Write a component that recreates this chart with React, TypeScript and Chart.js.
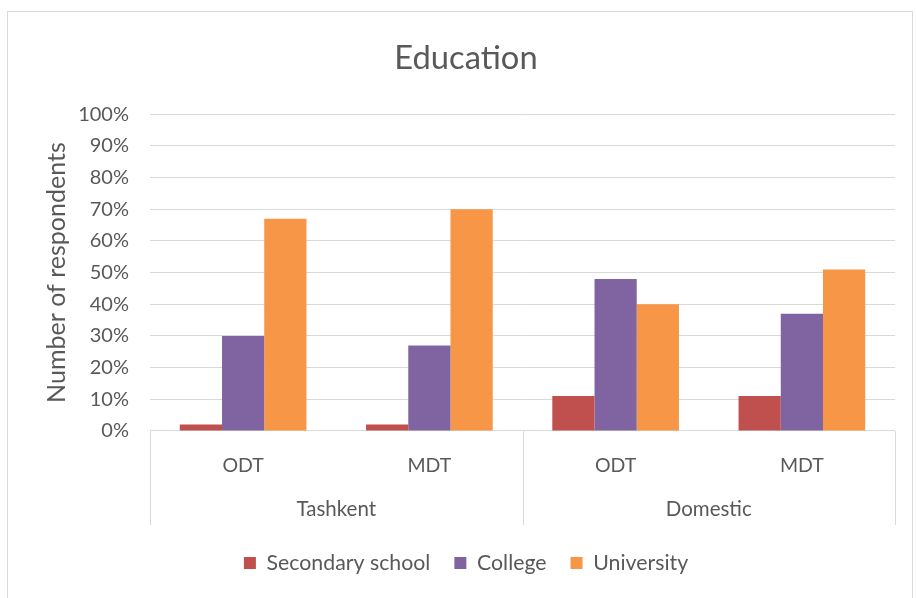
import React, { useEffect, useRef } from "react";
import { Chart, registerables } from "chart.js";

Chart.register(...registerables);

const categories = ["ODT", "MDT", "ODT", "MDT"];
const groups = ["Tashkent", "Domestic"];
const secondarySchool = [2, 2, 11, 11];
const college = [30, 27, 48, 37];
const university = [67, 70, 40, 51];
const yTicks = [0, 10, 20, 30, 40, 50, 60, 70, 80, 90, 100];

const FONT = "Lato";
const TEXT = "#595959";
const GRID = "#d9d9d9";

const dividerPlugin = {
  id: "groupDividers",
  afterDraw(chart: any) {
    const x = chart.scales.x;
    const area = chart.chartArea;
    const ctx = chart.ctx;
    const mid = (x.getPixelForValue(1) + x.getPixelForValue(2)) / 2;
    const xs = [area.left, mid, area.right];
    ctx.save();
    ctx.strokeStyle = GRID;
    ctx.lineWidth = 1;
    xs.forEach((px) => {
      const p = Math.round(px) + 0.5;
      ctx.beginPath();
      ctx.moveTo(p, area.bottom);
      ctx.lineTo(p, area.bottom + 94);
      ctx.stroke();
    });
    ctx.restore();
  },
};

export default function App() {
  const ref = useRef<HTMLCanvasElement | null>(null);
  useEffect(() => {
    if (!ref.current) return;
    const chart = new Chart(ref.current, {
      type: "bar",
      data: {
        labels: categories,
        datasets: [
          { label: "Secondary school", data: secondarySchool, backgroundColor: "#C0504D" },
          { label: "College", data: college, backgroundColor: "#8064A2" },
          { label: "University", data: university, backgroundColor: "#F79646" },
        ],
      },
      options: {
        animation: false,
        responsive: false,
        maintainAspectRatio: false,
        layout: { padding: { left: 37, right: 21, top: 0, bottom: 14.35 } },
        datasets: { bar: { categoryPercentage: 0.68, barPercentage: 1 } },
        plugins: {
          title: {
            display: true,
            text: "Education",
            color: TEXT,
            font: { family: FONT, size: 32.7, weight: "normal" },
            padding: { top: 39, bottom: 36 },
          },
          legend: {
            position: "bottom",
            labels: {
              color: TEXT,
              font: { family: FONT, size: 21.3 },
              boxWidth: 12,
              boxHeight: 12,
              padding: 24,
            },
          },
          tooltip: { enabled: false },
        },
        scales: {
          x: {
            type: "category",
            position: "bottom",
            grid: { display: false, drawTicks: false },
            border: { display: false },
            ticks: { color: TEXT, font: { family: FONT, size: 19.5 }, padding: 23 },
            afterFit: (scale: any) => {
              scale.height = 47;
            },
          },
          x2: {
            type: "category",
            position: "bottom",
            labels: groups,
            offset: true,
            grid: { display: false, drawTicks: false },
            border: { display: false },
            ticks: { color: TEXT, font: { family: FONT, size: 20.5 }, padding: 19 },
            afterFit: (scale: any) => {
              scale.height = 50.4;
            },
          },
          y: {
            min: 0,
            max: 100,
            afterBuildTicks: (scale: any) => {
              scale.ticks = yTicks.map((v) => ({ value: v }));
            },
            afterFit: (scale: any) => {
              scale.width = 113;
            },
            grid: { color: GRID, lineWidth: 1, drawTicks: false },
            border: { display: false },
            ticks: {
              color: TEXT,
              font: { family: FONT, size: 20 },
              padding: 21,
              callback: (v: any) => `${v}%`,
            },
            title: {
              display: true,
              text: "Number of respondents",
              color: TEXT,
              font: { family: FONT, size: 25 },
              padding: { top: 5, bottom: 0 },
            },
          },
        },
      },
      plugins: [dividerPlugin],
    });
    return () => chart.destroy();
  }, []);

  return (
    <div style={{ position: "fixed", left: 0, top: 0, width: 916, height: 598, background: "#fff" }}>
      <div
        style={{
          position: "absolute",
          left: 7,
          top: 11,
          width: 906,
          height: 600,
          border: `1px solid ${GRID}`,
          boxSizing: "border-box",
        }}
      />
      <canvas ref={ref} width={916} height={598} style={{ position: "absolute", left: 0, top: 0 }} />
    </div>
  );
}
